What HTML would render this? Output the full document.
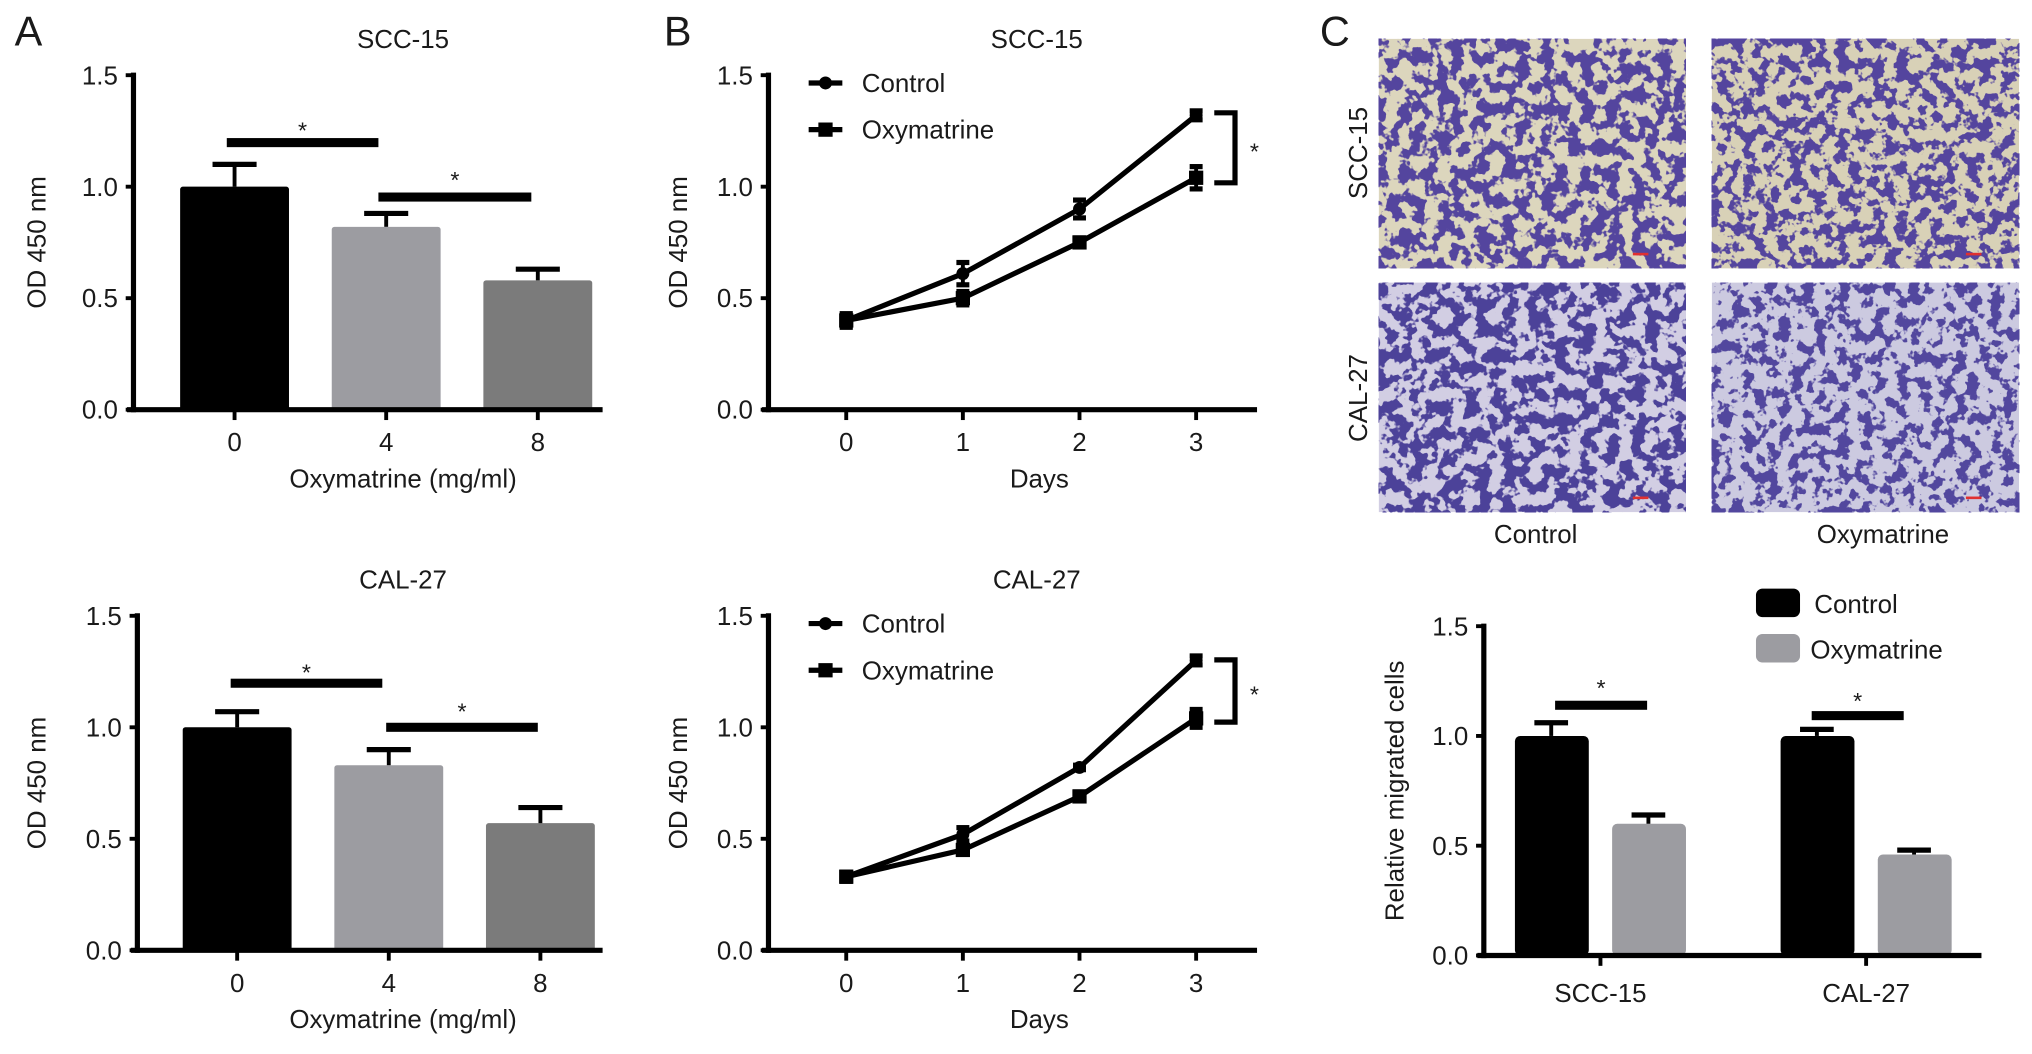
<!DOCTYPE html>
<html><head><meta charset="utf-8"><style>
html,body{margin:0;padding:0;background:#fff;}
svg{display:block;font-family:"Liberation Sans",Arial,sans-serif;}
</style></head><body>
<svg id="fig" width="2032" height="1054" viewBox="0 0 1568 813" preserveAspectRatio="none" xmlns="http://www.w3.org/2000/svg">
<defs>
<filter id="cellsA" x="0" y="0" width="1" height="1" filterUnits="objectBoundingBox" color-interpolation-filters="sRGB">
<feTurbulence type="fractalNoise" baseFrequency="0.1" numOctaves="3" seed="3"/>
<feColorMatrix type="matrix" values="0 0 0 0 0.33  0 0 0 0 0.27  0 0 0 0 0.62  18 0 0 0 -8.6"/>
</filter>
<filter id="cellsB" x="0" y="0" width="1" height="1" filterUnits="objectBoundingBox" color-interpolation-filters="sRGB">
<feTurbulence type="fractalNoise" baseFrequency="0.11" numOctaves="3" seed="7"/>
<feColorMatrix type="matrix" values="0 0 0 0 0.33  0 0 0 0 0.27  0 0 0 0 0.62  18 0 0 0 -8.9"/>
</filter>
<filter id="cellsC" x="0" y="0" width="1" height="1" filterUnits="objectBoundingBox" color-interpolation-filters="sRGB">
<feTurbulence type="fractalNoise" baseFrequency="0.1" numOctaves="3" seed="11"/>
<feColorMatrix type="matrix" values="0 0 0 0 0.30  0 0 0 0 0.26  0 0 0 0 0.60  18 0 0 0 -8.6"/>
</filter>
<filter id="cellsD" x="0" y="0" width="1" height="1" filterUnits="objectBoundingBox" color-interpolation-filters="sRGB">
<feTurbulence type="fractalNoise" baseFrequency="0.11" numOctaves="3" seed="19"/>
<feColorMatrix type="matrix" values="0 0 0 0 0.32  0 0 0 0 0.28  0 0 0 0 0.62  18 0 0 0 -9.2"/>
</filter>
</defs>
</svg>
<script>
// ---- data ----
const doseCats = ["0","4","8"];
const sccDoseVals = [1.0, 0.82, 0.58];
const sccDoseErr = [0.1, 0.06, 0.05];
const calDoseVals = [1.0, 0.83, 0.57];
const calDoseErr = [0.07, 0.07, 0.07];
const dayCats = ["0","1","2","3"];
const sccControl = [0.40, 0.61, 0.90, 1.32];
const sccControlErr = [0.03, 0.05, 0.04, 0.02];
const sccOxy = [0.40, 0.50, 0.75, 1.04];
const sccOxyErr = [0.03, 0.03, 0.02, 0.05];
const calControl = [0.33, 0.52, 0.82, 1.30];
const calControlErr = [0.02, 0.03, 0.01, 0.02];
const calOxy = [0.33, 0.45, 0.69, 1.04];
const calOxyErr = [0.02, 0.02, 0.02, 0.04];
const migCats = ["SCC-15","CAL-27"];
const migControl = [1.0, 1.0];
const migControlErr = [0.06, 0.03];
const migOxy = [0.60, 0.46];
const migOxyErr = [0.04, 0.02];
const yTicks = ["0.0","0.5","1.0","1.5"];

const svg = document.getElementById('fig');
const NS = "http://www.w3.org/2000/svg";
function el(tag, attrs, parent){
  const e = document.createElementNS(NS, tag);
  for (const k in attrs) e.setAttribute(k, attrs[k]);
  (parent||svg).appendChild(e);
  return e;
}
function txt(x,y,s,size,anchor,parent,rot){
  const t = el('text',{x:x,y:y,'font-size':size,'text-anchor':anchor||'middle',fill:'#1a1a1a'},parent);
  if(rot) t.setAttribute('transform','rotate(-90 '+x+' '+y+')');
  t.textContent = s;
  return t;
}
function axes(g, ax){
  el('line',{x1:ax.x0,y1:ax.yTop-2,x2:ax.x0,y2:ax.yBot+2,stroke:'#000','stroke-width':4},g);
  el('line',{x1:ax.x0-5,y1:ax.yBot,x2:ax.x1,y2:ax.yBot,stroke:'#000','stroke-width':4},g);
  yTicks.forEach(function(s){
    const y = ax.y(parseFloat(s));
    el('line',{x1:ax.x0-6,y1:y,x2:ax.x0,y2:y,stroke:'#000','stroke-width':3},g);
    const t = txt(ax.x0-12,y+7,s,20,'end',g);
    
    
  });
}
function mkAxis(x0,x1,yTop,yBot){
  return {x0:x0,x1:x1,yTop:yTop,yBot:yBot,y:function(v){return yBot-(yBot-yTop)*v/1.5;}};
}
function errbar(g,x,ax,v,e,w,upOnly){
  const yv=ax.y(v), yu=ax.y(v+e), yl=ax.y(v-e);
  el('line',{x1:x,y1:upOnly?yv:yl,x2:x,y2:yu,stroke:'#000','stroke-width':3},g);
  el('line',{x1:x-w,y1:yu,x2:x+w,y2:yu,stroke:'#000','stroke-width':4},g);
  if(!upOnly) el('line',{x1:x-w,y1:yl,x2:x+w,y2:yl,stroke:'#000','stroke-width':4},g);
}
function sig(g,x1,x2,y,sy){
  el('rect',{x:x1,y:y-3.5,width:x2-x1,height:7,fill:'#000'},g);
  const t = txt((x1+x2)/2,sy,'*',18,'middle',g);
  
  
}

// ---- Panel A ----
function panelA(top, axX, centers, vals, errs, sigs, title){
  const g = el('g',{});
  
  
  const ax = mkAxis(axX, 465, top, top+258);
  const colors = ['#000','#9c9ca1','#7b7b7b'];
  vals.forEach(function(v,i){
    const y = ax.y(v);
    const b = el('rect',{x:centers[i]-42,y:y,width:84,height:ax.yBot-y,fill:colors[i],rx:2},g);
    
    
    errbar(g,centers[i],ax,v,errs[i],17,true);
    const t = txt(centers[i],ax.yBot+32,doseCats[i],20,'middle',g);
    
    
    el('line',{x1:centers[i],y1:ax.yBot,x2:centers[i],y2:ax.yBot+8,stroke:'#000','stroke-width':3},g);
  });
  axes(g,ax);
  sigs.forEach(function(s){ sig(g,s[0],s[1],s[2],s[3]); });
  let t = txt(311,top-21,title,20,'middle',g);
  
  
  t = txt(311,top+318,'Oxymatrine (mg/ml)',20,'middle',g);
  
  
  t = txt(35,top+129,'OD 450 nm',20,'middle',g,true);
  
  
}
panelA(58,103,[181,298,415],sccDoseVals,sccDoseErr,[[175,292,110,107],[292,410,152,145]],'SCC-15');
panelA(475,106,[183,300,417],calDoseVals,calDoseErr,[[178,295,527,525],[298,415,561,555]],'CAL-27');

// ---- Panel B ----
function panelB(top, ctrl, ctrlE, oxy, oxyE, title, bracket){
  const g = el('g',{});
  
  
  const ax = mkAxis(593, 970, top, top+258);
  const xs = function(i){ return 653 + 90*i; };
  [[ctrl,ctrlE,'control'],[oxy,oxyE,'oxymatrine']].forEach(function(s){
    const pts = s[0].map(function(v,i){return xs(i)+','+ax.y(v);}).join(' ');
    const l = el('polyline',{points:pts,fill:'none',stroke:'#000','stroke-width':4},g);
    
    
    s[0].forEach(function(v,i){
      errbar(g,xs(i),ax,v,s[1][i],5,false);
      let m;
      if(s[2]==='control') m = el('circle',{cx:xs(i),cy:ax.y(v),r:5,fill:'#000'},g);
      else m = el('rect',{x:xs(i)-5.5,y:ax.y(v)-5.5,width:11,height:11,fill:'#000'},g);
      
      
    });
  });
  dayCats.forEach(function(d,i){
    el('line',{x1:xs(i),y1:ax.yBot,x2:xs(i),y2:ax.yBot+8,stroke:'#000','stroke-width':3},g);
    const t = txt(xs(i),ax.yBot+32,d,20,'middle',g);
    
    
  });
  axes(g,ax);
  const lg = el('g',{},g);
  
  
  el('line',{x1:624,y1:top+6,x2:650,y2:top+6,stroke:'#000','stroke-width':4},lg);
  el('circle',{cx:637,cy:top+6,r:5,fill:'#000'},lg);
  txt(665,top+13,'Control',20,'start',lg);
  el('line',{x1:624,y1:top+42,x2:650,y2:top+42,stroke:'#000','stroke-width':4},lg);
  el('rect',{x:631.5,y:top+36.5,width:11,height:11,fill:'#000'},lg);
  txt(665,top+49,'Oxymatrine',20,'start',lg);
  const b = el('path',{d:'M937 '+bracket[0]+' H953 V'+bracket[1]+' H937',fill:'none',stroke:'#000','stroke-width':4},g);
  
  
  let t = txt(968,(bracket[0]+bracket[1])/2+9,'*',18,'middle',g);
  
  
  t = txt(800,top-21,title,20,'middle',g);
  
  
  t = txt(802,top+318,'Days',20,'middle',g);
  
  
  t = txt(530,top+129,'OD 450 nm',20,'middle',g,true);
  
  
}
panelB(58,sccControl,sccControlErr,sccOxy,sccOxyErr,'SCC-15',[87,141]);
panelB(475,calControl,calControlErr,calOxy,calOxyErr,'CAL-27',[509,557]);

// ---- Panel C micrographs ----
const imgs = [
  [1064,30,'#dcd6bd','cellsA','micrograph-scc15-control'],
  [1321,30,'#d8d1b7','cellsB','micrograph-scc15-oxymatrine'],
  [1064,218,'#d2cee3','cellsC','micrograph-cal27-control'],
  [1321,218,'#cccae0','cellsD','micrograph-cal27-oxymatrine']
];
imgs.forEach(function(m){
  const g = el('g',{});
  
  
  el('rect',{x:m[0],y:m[1],width:237,height:177,fill:m[2]},g);
  el('rect',{x:m[0],y:m[1],width:237,height:177,fill:'#000',filter:'url(#'+m[3]+')'},g);
  el('rect',{x:m[0]+196,y:m[1]+165,width:12,height:2,fill:'#e03030'},g);
});
let tt;
tt = txt(1055,118,'SCC-15',20,'middle',svg,true);


tt = txt(1055,307,'CAL-27',20,'middle',svg,true);


tt = txt(1185,419,'Control',20,'middle');


tt = txt(1453,419,'Oxymatrine',20,'middle');



// ---- Panel C bar chart ----
(function(){
  const g = el('g',{});
  
  
  const ax = mkAxis(1145,1529,483,737);
  const centers = [1235,1440];
  migCats.forEach(function(c,i){
    const xc = centers[i];
    let y = ax.y(migControl[i]);
    let b = el('rect',{x:xc-66,y:y,width:57,height:ax.yBot-y,fill:'#000',rx:4},g);
    
    
    errbar(g,xc-38,ax,migControl[i],migControlErr[i],13,true);
    y = ax.y(migOxy[i]);
    b = el('rect',{x:xc+9,y:y,width:57,height:ax.yBot-y,fill:'#9c9ca1',rx:4},g);
    
    
    errbar(g,xc+37,ax,migOxy[i],migOxyErr[i],13,true);
    el('line',{x1:xc,y1:ax.yBot,x2:xc,y2:ax.yBot+8,stroke:'#000','stroke-width':3},g);
    const t = txt(xc,ax.yBot+36,c,20,'middle',g);
    
    
  });
  axes(g,ax);
  sig(g,1200,1271,544,537);
  sig(g,1398,1469,552,547);
  const lg = el('g',{},g);
  
  
  el('rect',{x:1355,y:454,width:34,height:22,fill:'#000',rx:5},lg);
  txt(1400,473,'Control',20,'start',lg);
  el('rect',{x:1355,y:489,width:34,height:22,fill:'#9c9ca1',rx:5},lg);
  txt(1397,508,'Oxymatrine',20,'start',lg);
  const t = txt(1083,610,'Relative migrated cells',20,'middle',g,true);
  
  
})();

// panel letters
[['A',22,35],['B',523,35],['C',1030,35]].forEach(function(p){
  const t = txt(p[1],p[2],p[0],32,'middle');
  
  
});
</script>
</body></html>
